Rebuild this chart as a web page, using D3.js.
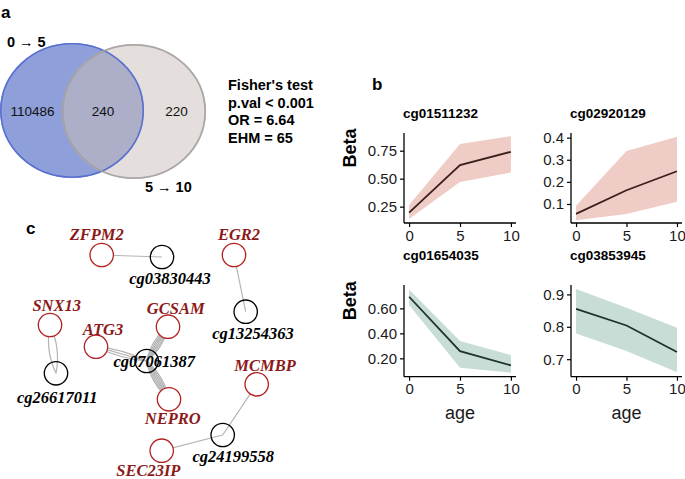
<!DOCTYPE html>
<html>
<head>
<meta charset="utf-8">
<script src="https://cdn.jsdelivr.net/npm/d3@7"></script>
<style>
  body { margin: 0; background: #fff; }
  svg { display: block; font-family: "Liberation Sans", Arial, sans-serif; }
</style>
</head>
<body>
<div id="chart"></div>
<script>
// ---------- panel a : venn ----------
const vennSets = ["0 \u2192 5", "5 \u2192 10"];
const vennCounts = [110486, 240, 220];  // only left, both, only right
const fisherLines = ["Fisher's test", "p.val < 0.001", "OR = 6.64", "EHM = 65"];

// ---------- panel b : facets ----------
const facetTitles = ["cg01511232", "cg02920129", "cg01654035", "cg03853945"];
const ages = [0, 5, 10];
const betaMean = [
  [0.196, 0.622, 0.740],
  [0.055, 0.162, 0.248],
  [0.693, 0.258, 0.144],
  [0.855, 0.804, 0.722]
];
const betaLow = [
  [0.140, 0.470, 0.555],
  [0.027, 0.055, 0.110],
  [0.627, 0.125, 0.085],
  [0.779, 0.725, 0.660]
];
const betaHigh = [
  [0.265, 0.810, 0.880],
  [0.092, 0.340, 0.404],
  [0.750, 0.338, 0.227],
  [0.917, 0.859, 0.797]
];
const yTicks = [
  [0.25, 0.50, 0.75],
  [0.1, 0.2, 0.3, 0.4],
  [0.20, 0.40, 0.60],
  [0.7, 0.8, 0.9]
];
const yTickFmt = [".2f", ".1f", ".2f", ".1f"];
const yDomains = [[0.104, 0.908], [0.014, 0.421], [0.053, 0.787], [0.646, 0.929]];
const xTicks = [0, 5, 10];

// ---------- panel c : network ----------
const nodeNames = ["ZFPM2", "cg03830443", "EGR2", "cg13254363", "SNX13", "ATG3", "GCSAM",
  "cg07061387", "cg26617011", "NEPRO", "MCMBP", "cg24199558", "SEC23IP"];
const nodeIsGene = [true, false, true, false, true, true, true, false, false, true, true, false, true];
const nodeX = [101.7, 162, 234, 245.7, 50, 96, 168, 146.7, 56, 169, 256.7, 222.7, 161.7];
const nodeY = [255, 257, 255, 311.7, 325, 346.7, 326.7, 361, 373.3, 399.3, 384.3, 435, 450.7];
const labelDX = [-5, 8, 5, 7.3, 6.7, 7, 7.7, 7.6, 1.3, 3.7, 8.3, 10.6, -13.4];
const labelDY = [-21, 21, -21, 21, -20, -17.7, -18.4, 0, 23.4, 19, -19.3, 21, 19.5];
const edgeFrom = ["ZFPM2", "EGR2", "SNX13", "ATG3", "GCSAM", "NEPRO", "MCMBP", "SEC23IP"];
const edgeTo = ["cg03830443", "cg13254363", "cg26617011", "cg07061387", "cg07061387", "cg07061387", "cg24199558", "cg24199558"];
const edgeCount = [1, 1, 2, 3, 6, 6, 1, 1];

const W = 685, H = 479;
const svg = d3.select("#chart").append("svg").attr("width", W).attr("height", H);

// panel letters
svg.append("text").attr("x", 1).attr("y", 18).text("a")
  .attr("font-weight", "bold").attr("font-size", 17);
svg.append("text").attr("x", 372).attr("y", 90).text("b")
  .attr("font-weight", "bold").attr("font-size", 17);
svg.append("text").attr("x", 26).attr("y", 234).text("c")
  .attr("font-weight", "bold").attr("font-size", 17);

// ===== venn =====
{
  // layout units: left set centre at 0, right at 0.86, radius 1
  const vx = d3.scaleLinear().domain([-1, 1.86]).range([0, 206]);
  const vy = d3.scaleLinear().domain([-1, 1]).range([43, 178]);
  const rx = vx(1) - vx(0), ry = (vy(1) - vy(-1)) / 2;
  const centers = [0, 0.86];
  const g = svg.append("g");
  const defs = svg.append("defs");
  defs.append("clipPath").attr("id", "clipA")
    .append("ellipse").attr("cx", vx(centers[0])).attr("cy", vy(0)).attr("rx", rx).attr("ry", ry);

  g.append("ellipse").attr("cx", vx(centers[0])).attr("cy", vy(0)).attr("rx", rx).attr("ry", ry)
    .attr("fill", "#8e9fd9");
  g.append("ellipse").attr("cx", vx(centers[1])).attr("cy", vy(0) + 1).attr("rx", rx).attr("ry", ry)
    .attr("fill", "#e4dfdc");
  g.append("ellipse").attr("cx", vx(centers[1])).attr("cy", vy(0) + 1).attr("rx", rx).attr("ry", ry)
    .attr("clip-path", "url(#clipA)").attr("fill", "#adaec8");
  g.append("ellipse").attr("cx", vx(centers[0])).attr("cy", vy(0)).attr("rx", rx - 0.8).attr("ry", ry - 0.8)
    .attr("fill", "none").attr("stroke", "#5870cf").attr("stroke-width", 1.6);
  g.append("ellipse").attr("cx", vx(centers[1])).attr("cy", vy(0) + 1).attr("rx", rx - 0.8).attr("ry", ry - 0.8)
    .attr("fill", "none").attr("stroke", "#a3a09e").attr("stroke-width", 1.8).attr("stroke-opacity", 0.9);

  const countX = [-0.55, 0.43, 1.45];
  g.selectAll("text.cnt").data(vennCounts).join("text")
    .attr("x", (d, i) => vx(countX[i])).attr("y", vy(0) + 5)
    .attr("text-anchor", "middle").attr("font-size", 13.5).attr("fill", "#111")
    .text(d => d);

  g.append("text").attr("x", 7).attr("y", 47).attr("font-weight", "bold").attr("font-size", 14.5)
    .text(vennSets[0]);
  g.append("text").attr("x", 145).attr("y", 192).attr("font-weight", "bold").attr("font-size", 14.5)
    .text(vennSets[1]);

  g.selectAll("text.fisher").data(fisherLines).join("text")
    .attr("x", 228).attr("y", (d, i) => 90 + i * 17.7)
    .attr("font-weight", "bold").attr("font-size", 14.5).text(d => d);
}

// ===== facets =====
{
  const cols = [{ x0: 404, x1: 516 }, { x0: 571, x1: 682 }];
  const rows = [{ y0: 133, y1: 223, title: 113 }, { y0: 285, y1: 376.7, title: 255 }];
  const palettes = [
    { fill: "#efcdc6", line: "#3b1f1c" },
    { fill: "#c8ddd5", line: "#1f322b" }
  ];

  facetTitles.forEach((title, k) => {
    const col = cols[k % 2], row = rows[Math.floor(k / 2)];
    const pal = palettes[Math.floor(k / 2)];
    const x = d3.scaleLinear().domain([-0.5, 10.5]).range([col.x0, col.x1]);
    const y = d3.scaleLinear().domain(yDomains[k]).range([row.y1, row.y0]);
    const g = svg.append("g");

    const pts = ages.map((a, i) => ({ a, m: betaMean[k][i], lo: betaLow[k][i], hi: betaHigh[k][i] }));
    g.append("path").datum(pts)
      .attr("d", d3.area().x(d => x(d.a)).y0(d => y(d.lo)).y1(d => y(d.hi)))
      .attr("fill", pal.fill);
    g.append("path").datum(pts)
      .attr("d", d3.line().x(d => x(d.a)).y(d => y(d.m)))
      .attr("fill", "none").attr("stroke", pal.line).attr("stroke-width", 1.8);

    const xa = g.append("g").attr("transform", `translate(0,${row.y1})`)
      .call(d3.axisBottom(x).tickValues(xTicks).tickSize(4).tickPadding(3).tickFormat(d3.format("d")));
    const ya = g.append("g").attr("transform", `translate(${col.x0},0)`)
      .call(d3.axisLeft(y).tickValues(yTicks[k]).tickSize(4).tickPadding(3).tickFormat(d3.format(yTickFmt[k])));
    [xa, ya].forEach(ax => {
      ax.select(".domain").attr("stroke", "#000").attr("stroke-width", 1.3)
        .attr("d", ax === xa ? `M${col.x0},0H${col.x1}` : `M0,${row.y0}V${row.y1}`);
      ax.selectAll(".tick line").attr("stroke", "#000").attr("stroke-width", 1.2);
      ax.selectAll(".tick text").attr("font-size", 15).attr("fill", "#1a1a1a")
        .attr("font-family", "Liberation Sans, Arial, sans-serif");
    });

    g.append("text").attr("x", col.x0 - 1).attr("y", row.title + 5)
      .attr("font-weight", "bold").attr("font-size", 13.5).text(title);

    if (k % 2 === 0) {
      g.append("text").attr("transform", `translate(356,${(row.y0 + row.y1) / 2 - 30}) rotate(-90)`)
        .attr("text-anchor", "middle").attr("font-weight", "bold").attr("font-size", 18).text("Beta");
    }
    if (k >= 2) {
      g.append("text").attr("x", x(5)).attr("y", 419)
        .attr("text-anchor", "middle").attr("font-size", 18).attr("fill", "#1a1a1a").text("age");
    }
  });
}

// ===== network =====
{
  const nx = d3.scaleLinear().domain([0, 1]).range([0, 1]);
  const ny = d3.scaleLinear().domain([0, 1]).range([0, 1]);
  const nodes = nodeNames.map((n, i) => ({ n, gene: nodeIsGene[i], x: nx(nodeX[i]), y: ny(nodeY[i]), dx: labelDX[i], dy: labelDY[i] }));
  const byName = new Map(nodes.map(d => [d.n, d]));
  const r = 11.7;
  const g = svg.append("g");

  edgeFrom.forEach((f, i) => {
    const s = byName.get(f), t = byName.get(edgeTo[i]);
    const n = edgeCount[i];
    const len = Math.hypot(t.x - s.x, t.y - s.y);
    const ux = -(t.y - s.y) / len, uy = (t.x - s.x) / len;
    const step = n === 2 ? 16 : n === 3 ? 5 : 3;
    for (let j = 0; j < n; j++) {
      const off = n === 1 ? 0 : (j - (n - 1) / 2) * step;
      const mx = (s.x + t.x) / 2 + ux * off, my = (s.y + t.y) / 2 + uy * off;
      const p = d3.path();
      p.moveTo(s.x, s.y);
      p.quadraticCurveTo(mx, my, t.x, t.y);
      g.append("path").attr("d", p.toString()).attr("fill", "none")
        .attr("stroke", "#b4b4b4").attr("stroke-width", n > 3 ? 1.3 : 1.2);
    }
  });

  g.selectAll("circle").data(nodes).join("circle")
    .attr("cx", d => d.x).attr("cy", d => d.y).attr("r", r)
    .attr("fill", d => d.gene ? "#fff" : "none")
    .attr("stroke", d => d.gene ? "#b22222" : "#000").attr("stroke-width", 1.3);

  g.selectAll("text").data(nodes).join("text")
    .attr("x", d => d.x + d.dx).attr("y", d => d.y + d.dy + 6)
    .attr("text-anchor", "middle")
    .attr("font-family", "Liberation Serif, Times New Roman, serif")
    .attr("font-style", "italic").attr("font-weight", "bold").attr("font-size", 16.5)
    .attr("fill", d => d.gene ? "#8b1a1a" : "#000")
    .text(d => d.n);
}
</script>
</body>
</html>
